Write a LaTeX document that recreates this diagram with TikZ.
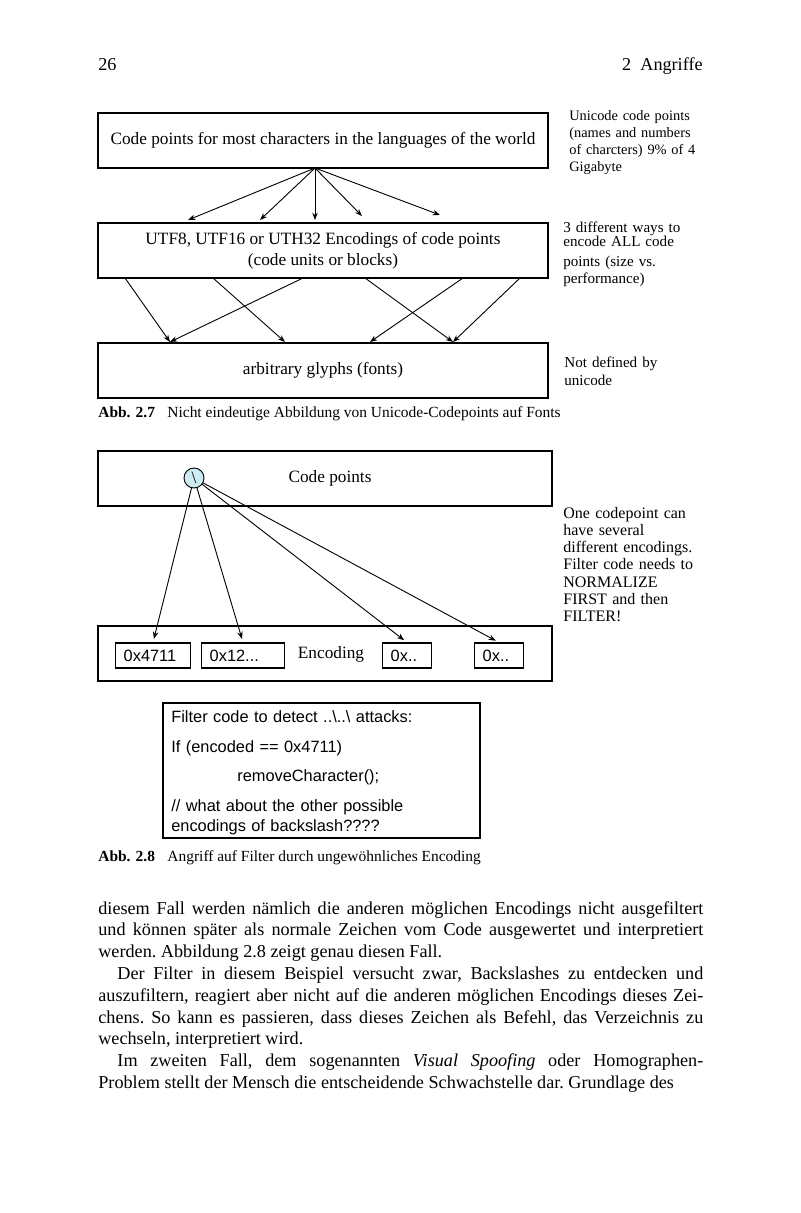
\documentclass[tikz,border=0pt]{standalone}
\usepackage{fontspec}
\setmainfont{Liberation Serif}
\setsansfont{Liberation Sans}
\usetikzlibrary{arrows.meta}

\newcommand{\figfont}{\fontsize{9.5}{11}\selectfont}
\newcommand{\notefont}{\fontsize{8.3}{9.5}\selectfont}
\newcommand{\capfont}{\fontsize{8.5}{10}\selectfont}
\newcommand{\codefont}{\sffamily\fontsize{9}{11}\selectfont}
\newcommand{\bodyfont}{\fontsize{10}{12}\selectfont}
\definecolor{glyphblue}{RGB}{204,236,242}

\tikzset{
  arr/.style={-{Stealth[length=4pt,width=3pt]}, line width=0.5pt},
  layer/.style={draw, line width=0.6pt, inner sep=0pt, minimum height=30.25pt, font=\figfont, align=center},
  hexbox/.style={draw, line width=0.6pt, anchor=west, inner xsep=4.5pt, inner ysep=0pt, minimum height=13.75pt, text width=#1, font=\codefont},
  note/.style={anchor=base west, inner sep=0pt, text width=80pt, align=left, font=\notefont},
  code/.style={anchor=base west, inner sep=0pt, text width=165pt, align=left, font=\codefont},
  line/.style={anchor=base west, inner sep=0pt},
}

\begin{document}
\begin{tikzpicture}[x=0.55pt,y=-0.55pt]
    % Seite
    \fill[white] (0,0) rectangle (800,1213);
    \useasboundingbox (0,0) rectangle (800,1213);

    % Kopfzeile
    \node[line, font=\bodyfont] (pgno) at (98,71) {26};
    \node[line, anchor=base east, font=\bodyfont] (chap) at (703,71) {2\enspace Angriffe};

    % Abb. 2.7: drei Ebenen
    \node[layer, minimum width=247.5pt] (cp) at (323,140.5) {Code points for most characters in the languages of the world};
    \node[layer, minimum width=247.5pt] (enc) at (323,250.5) {UTF8, UTF16 or UTH32 Encodings of code points\\[0.8pt](code units or blocks)};
    \node[layer, minimum width=247.5pt] (gly) at (323,370.5) {arbitrary glyphs (fonts)};

    % code points -> encodings
    \coordinate (hub) at (315,168);
    \foreach \n/\tx/\ty in {1/188/220, 2/260/220, 3/315/220, 4/362/216, 5/440/215}
        \coordinate (t\n) at (\tx,\ty);
    \foreach \n in {1,...,5}
        \draw[arr] (hub) -- (t\n);

    % encodings -> glyphs
    \foreach \n/\sx in {1/125, 2/213, 3/303, 4/365, 5/463, 6/520}
        \coordinate (s\n) at (\sx,278);
    \foreach \n/\gx in {1/170, 2/285, 3/370, 4/453}
        \coordinate (g\n) at (\gx,342);
    \foreach \a/\b in {1/1, 2/2, 3/1, 4/4, 5/3, 6/4}
        \draw[arr] (s\a) -- (g\b);

    % Randnotizen
    \node[note, font=\fontsize{7.9}{9.5}\selectfont] (n1) at (569,120) {Unicode code points\\(names and numbers\\of charcters) 9\% of 4\\Gigabyte};
    \node[note] (n2) at (563,232) {3 different ways to\\[-1.5pt]encode ALL code\\[1.5pt]points (size vs.\\performance)};
    \node[note] (n3) at (564,367) {Not defined by\\[0.5pt]unicode};

    \node[line, font=\capfont] (cap27) at (98,417) {\makebox[38pt][l]{\bfseries Abb. 2.7}Nicht eindeutige Abbildung von Unicode-Codepoints auf Fonts};

    % Abb. 2.8
    \node[layer, minimum width=249.7pt] (pts) at (325,478.5) {};
    \node[font=\figfont] (ptslbl) at (330,478) {Code points};
    \node[draw, circle, fill=glyphblue, minimum size=11pt, inner sep=0pt, line width=0.5pt, font=\figfont] (bs) at (194,478) {\textbackslash};

    \node[layer, minimum width=249.7pt] (codes) at (325,653.5) {};
    \node[hexbox=32.25pt] (ex1) at (115,655.5) {0x4711};
    \node[hexbox=36.65pt] (ex2) at (201,655.5) {0x12...};
    \node[font=\figfont] (enclbl) at (331,654) {Encoding};
    \node[hexbox=17.95pt] (ex3) at (382,655.5) {0x..};
    \node[hexbox=17.95pt] (ex4) at (474,655.5) {0x..};

    \foreach \n in {1,...,4}
        \draw[arr, shorten >=2pt] (bs) -- (ex\n.north);

    \node[note, font=\fontsize{8.8}{9.5}\selectfont] (n4) at (563,518) {One codepoint can\\have several\\different encodings.\\Filter code needs to\\NORMALIZE\\FIRST and then\\FILTER!};

    % Filter-Code
    \node[draw, line width=0.6pt, minimum width=174.35pt, minimum height=74.25pt, inner sep=0pt] (filt) at (321.5,770.5) {};
    \node[code] (f1) at (171,722) {Filter code to detect ..\textbackslash..\textbackslash\ attacks:};
    \node[code] (f2) at (171,752) {If (encoded == 0x4711)};
    \node[code] (f3) at (237,781) {removeCharacter();};
    \node[code] (f4) at (171,811) {// what about the other possible\\encodings of backslash????};

    \node[line, font=\capfont] (cap28) at (98,861) {\makebox[38pt][l]{\bfseries Abb. 2.8}Angriff auf Filter durch ungewöhnliches Encoding};

    % Fliesstext
    \node[line, text width=332.75pt, align=justify, font=\bodyfont] (body) at (98,914) {%
        \frenchspacing \hyphenpenalty=10000 \exhyphenpenalty=10000 \parindent=0pt
        \noindent diesem Fall werden nämlich die anderen möglichen Encodings nicht ausgefiltert\linebreak
        und können später als normale Zeichen vom Code ausgewertet und interpretiert\linebreak
        werden. Abbildung 2.8 zeigt genau diesen Fall.\par
        \hspace*{10.5pt}Der Filter in diesem Beispiel versucht zwar, Backslashes zu entdecken und\linebreak
        auszufiltern, reagiert aber nicht auf die anderen möglichen Encodings dieses Zei-\linebreak
        chens. So kann es passieren, dass dieses Zeichen als Befehl, das Verzeichnis zu\linebreak
        wechseln, interpretiert wird.\par
        \parfillskip=0pt
        \hspace*{10.5pt}Im zweiten Fall, dem sogenannten \emph{Visual Spoofing} oder Homographen-\linebreak
        Problem stellt der Mensch die entscheidende Schwachstelle dar. Grundlage des};
\end{tikzpicture}
\end{document}
